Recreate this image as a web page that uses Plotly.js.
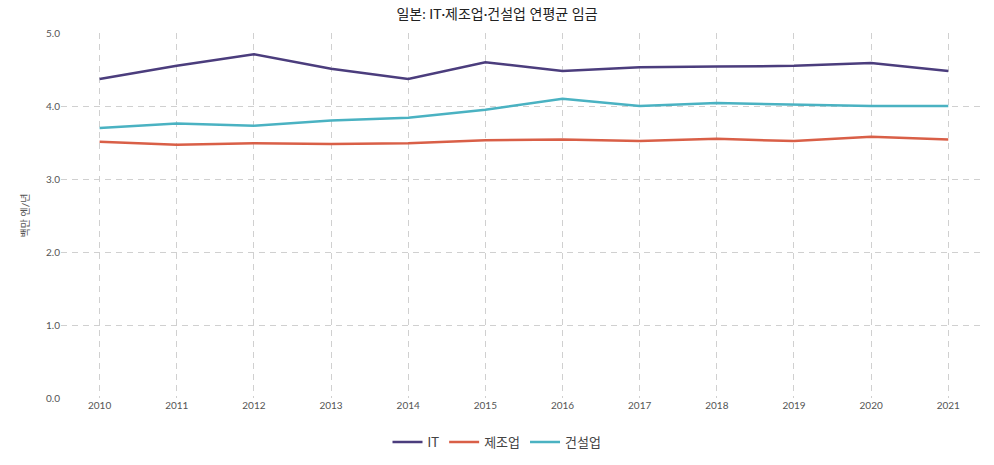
<!DOCTYPE html>
<html>
<head>
<meta charset="utf-8">
<script src="https://cdn.plot.ly/plotly-3.0.1.min.js"></script>
<style>
  html, body { margin: 0; padding: 0; background: #fff; }
  #chart { width: 994px; height: 465px; }
</style>
</head>
<body>
<div id="chart"></div>
<script>
  "use strict";
  const FONT = "Lato, 'Noto Sans CJK KR', sans-serif";

  const years = [2010, 2011, 2012, 2013, 2014, 2015, 2016, 2017, 2018, 2019, 2020, 2021];
  const itWage = [4.37, 4.55, 4.71, 4.51, 4.37, 4.60, 4.48, 4.53, 4.54, 4.55, 4.59, 4.48];
  const mfgWage = [3.51, 3.47, 3.49, 3.48, 3.49, 3.53, 3.54, 3.52, 3.55, 3.52, 3.58, 3.54];
  const conWage = [3.70, 3.76, 3.73, 3.80, 3.84, 3.95, 4.10, 4.00, 4.04, 4.02, 4.00, 4.00];
  const seriesNames = ["IT", "제조업", "건설업"];
  const seriesColors = ["#4b3d7d", "#d95f47", "#4ab2c2"];

  const traces = [itWage, mfgWage, conWage].map((ys, i) => ({
    type: "scatter",
    mode: "lines",
    x: years,
    y: ys,
    name: seriesNames[i],
    line: { color: seriesColors[i], width: 2.5 },
  }));

  const axisCommon = {
    showgrid: true,
    gridcolor: "#d0d0d0",
    griddash: "6px,5px",
    gridwidth: 1,
    zeroline: false,
    showline: false,
    ticks: "",
    tickfont: { family: FONT, size: 10, color: "#555" },
  };

  const layout = {
    width: 994,
    height: 465,
    paper_bgcolor: "#fff",
    plot_bgcolor: "#fff",
    font: { family: FONT, color: "#444" },
    margin: { l: 61, r: 11, t: 33, b: 67 },
    title: {
      text: "일본: IT·제조업·건설업 연평균 임금",
      font: { family: FONT, size: 14, color: "#222" },
      x: 0.5,
      xanchor: "center",
      y: 0.97,
      yanchor: "middle",
    },
    xaxis: Object.assign({}, axisCommon, {
      range: [2009.5, 2021.45],
      tickvals: years,
      ticktext: years.map(String),
      automargin: false,
    }),
    yaxis: Object.assign({}, axisCommon, {
      range: [0, 5],
      dtick: 1,
      tickformat: ".1f",
      automargin: false,
      title: { text: "백만 엔/년", font: { family: FONT, size: 10, color: "#555" }, standoff: 14 },
    }),
    legend: {
      orientation: "h",
      x: 0.5,
      xanchor: "center",
      xref: "container",
      y: 23 / 465,
      yanchor: "middle",
      yref: "container",
      itemwidth: 30,
      font: { family: FONT, size: 13, color: "#444" },
    },
    showlegend: true,
  };

  Plotly.newPlot("chart", traces, layout, { displayModeBar: false, staticPlot: true });
</script>
</body>
</html>
